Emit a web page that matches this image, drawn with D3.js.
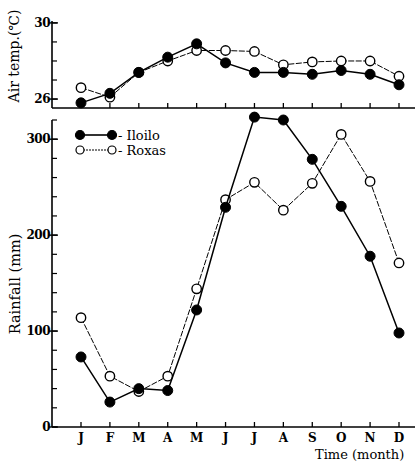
<!DOCTYPE html>
<html>
<head>
<meta charset="utf-8">
<script src="https://cdn.jsdelivr.net/npm/d3@7"></script>
<style>
  html, body { margin: 0; padding: 0; background: #fff; }
  svg { display: block; }
  text { font-family: "DejaVu Serif", "Liberation Serif", serif; fill: #000; }
</style>
</head>
<body>
<svg id="chart" width="415" height="461"></svg>
<script>
// Monthly climate data for two stations
const months = ["J", "F", "M", "A", "M", "J", "J", "A", "S", "O", "N", "D"];
const tempIloilo = [25.8, 26.3, 27.4, 28.2, 28.9, 27.9, 27.4, 27.4, 27.3, 27.5, 27.3, 26.75];
const tempRoxas  = [26.6, 26.1, 27.4, 28.0, 28.55, 28.55, 28.5, 27.8, 27.95, 28.0, 28.0, 27.2];
const rainIloilo = [73, 26, 40, 38, 122, 229, 323, 320, 279, 230, 178, 98];
const rainRoxas  = [114, 53, 37, 53, 144, 237, 255, 226, 254, 305, 256, 171];
const tempTicks = [26, 30];
const rainTicks = [0, 100, 200, 300];
const seriesNames = ["Iloilo", "Roxas"];

const svg = d3.select("#chart");
const left = 52, right = 415;
const serif = "'DejaVu Serif', 'Liberation Serif', serif";

const x = d3.scalePoint().domain(d3.range(12)).range([81, 399]);

const yT = d3.scaleLinear().domain([25.53, 30.1]).range([108, 21]);
const yR = d3.scaleLinear().domain([0, 320]).range([427, 120]);

const fontTick = `bold 12px ${serif}`;

// ---- axes ----
function drawYAxis(scale, majors, minorStep, y0, y1) {
  const g = svg.append("g").attr("transform", `translate(${left},0)`);
  g.append("line").attr("x1", 0).attr("x2", 0).attr("y1", y0).attr("y2", y1)
    .attr("stroke", "#000").attr("stroke-width", 1.6);
  const [d0, d1] = scale.domain();
  const minors = d3.range(Math.ceil(d0 / minorStep) * minorStep, d1 + 1e-9, minorStep);
  g.selectAll("line.minor").data(minors).enter().append("line")
    .attr("x1", 0).attr("x2", 5)
    .attr("y1", d => scale(d)).attr("y2", d => scale(d))
    .attr("stroke", "#000").attr("stroke-width", 1.2);
  g.selectAll("line.major").data(majors).enter().append("line")
    .attr("x1", -3).attr("x2", 6)
    .attr("y1", d => scale(d)).attr("y2", d => scale(d))
    .attr("stroke", "#000").attr("stroke-width", 1.4);
  g.selectAll("text.tl").data(majors).enter().append("text")
    .attr("x", -2).attr("y", d => scale(d))
    .attr("dy", "0.35em").attr("text-anchor", "end")
    .style("font", fontTick)
    .style("letter-spacing", "-0.5px")
    .text(d => d);
}

function drawXAxis(yPos, withLabels) {
  const g = svg.append("g").attr("transform", `translate(0,${yPos})`);
  g.append("line").attr("x1", left).attr("x2", right).attr("y1", 0).attr("y2", 0)
    .attr("stroke", "#000").attr("stroke-width", 1.6);
  g.selectAll("line.t").data(d3.range(12)).enter().append("line")
    .attr("x1", d => x(d)).attr("x2", d => x(d)).attr("y1", 0).attr("y2", -5)
    .attr("stroke", "#000").attr("stroke-width", 1.3);
  if (withLabels) {
    g.selectAll("text.m").data(months).enter().append("text")
      .attr("x", (d, i) => x(i)).attr("y", 15)
      .attr("text-anchor", "middle")
      .style("font", fontTick)
      .text(d => d);
  }
}

drawYAxis(yT, tempTicks, 1, 21, 108);
drawXAxis(108, false);
drawYAxis(yR, rainTicks, 20, 120, 427);
drawXAxis(427, true);

// axis titles
svg.append("text")
  .attr("transform", "translate(19,56) rotate(-90)")
  .attr("text-anchor", "middle")
  .style("font", `14px ${serif}`)
  .text("Air temp.(℃)");

svg.append("text")
  .attr("transform", "translate(20,284) rotate(-90)")
  .attr("text-anchor", "middle")
  .style("font", `14.5px ${serif}`)
  .text("Rainfall (mm)");

svg.append("text")
  .attr("x", 315).attr("y", 459)
  .style("font", `13px ${serif}`)
  .text("Time (month)");

// ---- series ----
function drawSeries(values, scale, filled) {
  const line = d3.line().x((d, i) => x(i)).y(d => scale(d));
  svg.append("path").datum(values)
    .attr("d", line)
    .attr("fill", "none")
    .attr("stroke", "#000")
    .attr("stroke-width", filled ? 1.5 : 1)
    .attr("stroke-dasharray", filled ? null : "6,1.5");
  svg.append("g").selectAll("circle").data(values).enter().append("circle")
    .attr("cx", (d, i) => x(i)).attr("cy", d => scale(d))
    .attr("r", filled ? 5 : 4.7)
    .attr("fill", filled ? "#000" : "#fff")
    .attr("stroke", "#000")
    .attr("stroke-width", filled ? 1 : 1.4);
}

drawSeries(tempRoxas, yT, false);
drawSeries(tempIloilo, yT, true);
drawSeries(rainRoxas, yR, false);
drawSeries(rainIloilo, yR, true);

// ---- legend ----
const legend = svg.append("g");
[[135, true], [150, false]].forEach(([ly, filled], k) => {
  legend.append("line").attr("x1", 80).attr("x2", 112).attr("y1", ly).attr("y2", ly)
    .attr("stroke", "#000").attr("stroke-width", filled ? 1.6 : 1)
    .attr("stroke-dasharray", filled ? null : "2,1");
  [80, 112].forEach(cx => {
    legend.append("circle").attr("cx", cx).attr("cy", ly)
      .attr("r", filled ? 4.5 : 4)
      .attr("fill", filled ? "#000" : "#fff")
      .attr("stroke", "#000").attr("stroke-width", 1.2);
  });
  legend.append("text").attr("x", 118).attr("y", ly).attr("dy", "0.35em")
    .style("font", `13px ${serif}`)
    .text("- " + seriesNames[k]);
});
</script>
</body>
</html>
